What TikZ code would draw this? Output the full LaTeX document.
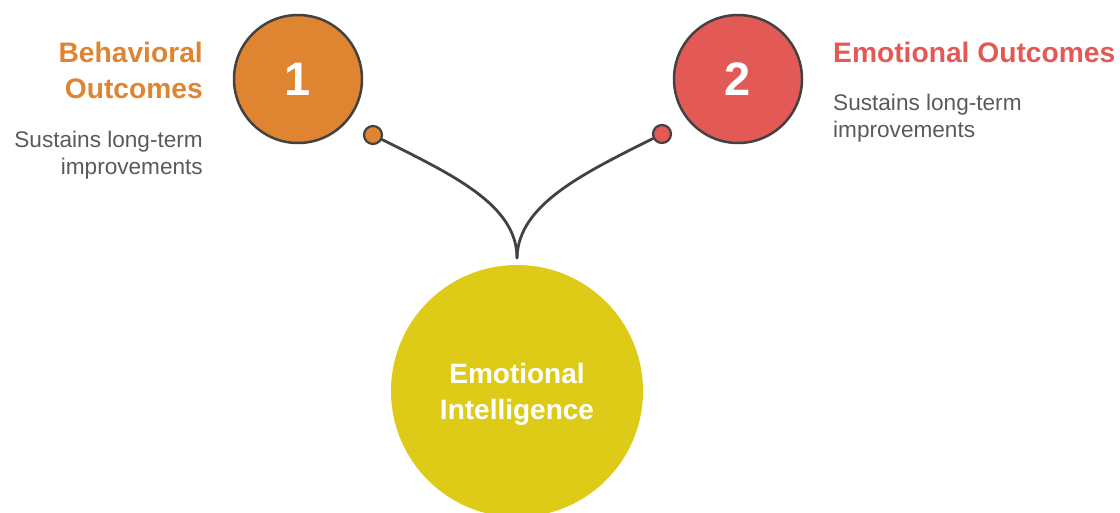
\documentclass[tikz,border=0pt]{standalone}
\usepackage{fontspec}
\setmainfont{Liberation Sans}
\definecolor{corange}{HTML}{DF8430}
\definecolor{cred}{HTML}{E35955}
\definecolor{cyellow}{HTML}{DECB17}
\definecolor{cline}{HTML}{424242}
\definecolor{cgray}{HTML}{5A5A5A}
\tikzset{
  numcirc/.style={circle, draw=cline, line width=2.5pt, minimum size=128pt, inner sep=0pt, text=white, font=\bfseries\fontsize{47}{47}\selectfont},
  dotc/.style={circle, draw=cline, line width=2.2pt, minimum size=18pt, inner sep=0pt},
  conn/.style={draw=cline, line width=2.8pt, line cap=round},
  title/.style={inner sep=0pt, font=\bfseries\fontsize{28.2}{28.2}\selectfont},
  desc/.style={inner sep=0pt, text=cgray, font=\fontsize{22.6}{22.6}\selectfont},
  centertxt/.style={inner sep=0pt, text=white, font=\bfseries\fontsize{28}{28}\selectfont, anchor=base}
}
\begin{document}
\begin{tikzpicture}[x=1pt,y=-1pt]
\useasboundingbox (0,0) rectangle (1120,512);
\clip (0,0) rectangle (1120,512);
% big circle
\node[circle, fill=cyellow, minimum size=252pt, inner sep=0pt] (ei) at (517,391) {};
\node[centertxt] (ei1) at (517,383) {Emotional};
\node[centertxt] (ei2) at (517,419) {Intelligence};
% junction
\coordinate (j) at (517,258);
% dots
\node[dotc, fill=corange] (d1) at (373,135) {};
\node[dotc, fill=cred] (d2) at (662,134) {};
% connectors
\draw[conn] (d1) .. controls (453,175) and (517,205) .. (j);
\draw[conn] (d2) .. controls (582,174) and (518,205) .. (j);
% numbered circles
\node[numcirc, fill=corange] (c1) at (298,79) {1};
\node[numcirc, fill=cred] (c2) at (738,79) {2};
% left texts
\node[title, text=corange, anchor=base east] (t1a) at (203,62) {Behavioral};
\node[title, text=corange, anchor=base east] (t1b) at (203,98) {Outcomes};
\node[desc, anchor=base east] (s1a) at (203,147) {Sustains long-term};
\node[desc, anchor=base east] (s1b) at (203,174) {improvements};
% right texts
\node[title, text=cred, anchor=base west] (t2) at (833,62) {Emotional Outcomes};
\node[desc, anchor=base west] (s2a) at (833,110) {Sustains long-term};
\node[desc, anchor=base west] (s2b) at (833,137) {improvements};
\end{tikzpicture}
\end{document}
